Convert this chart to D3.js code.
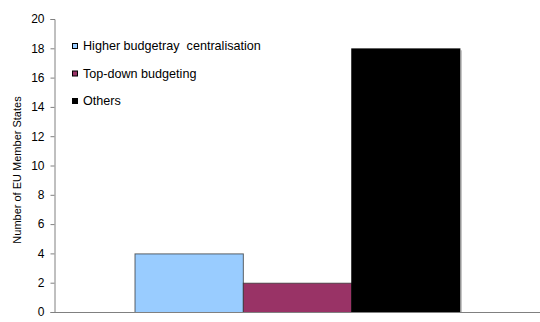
<!DOCTYPE html>
<html>
<head>
<meta charset="utf-8">
<script src="https://cdn.jsdelivr.net/npm/d3@7"></script>
<style>
  html, body { margin: 0; padding: 0; background: #fff; }
  svg { display: block; font-family: "Liberation Sans", Arial, sans-serif; }
</style>
</head>
<body>
<svg id="chart" width="540" height="322"></svg>
<script>
// Data
const groups = [""];
const seriesNames = ["Higher budgetray  centralisation", "Top-down budgeting", "Others"];
const seriesValues = [4, 2, 18];
const seriesColors = ["#99CCFF", "#993366", "#000000"];
const yTicks = [0, 2, 4, 6, 8, 10, 12, 14, 16, 18, 20];
const yTitle = "Number of EU Member States";

const svg = d3.select("#chart");
const margin = { left: 54, right: 0, top: 19, bottom: 10 };
const W = 540, H = 322;
const plotBottom = H - margin.bottom;

const y = d3.scaleLinear().domain([0, 20]).range([plotBottom, margin.top]);
const x0 = d3.scaleBand().domain(groups).range([margin.left, W - margin.right])
  .paddingInner(0).paddingOuter(0.2477);
const x1 = d3.scaleBand().domain(seriesNames).range([0, x0.bandwidth()]).padding(0);

// Bars
const g = svg.append("g").attr("transform", `translate(${x0("")},0)`);
g.selectAll("rect.bar")
  .data(seriesNames.map((n, i) => ({ name: n, value: seriesValues[i], color: seriesColors[i] })))
  .join("rect")
  .attr("class", "bar")
  .attr("x", d => x1(d.name) + 0.5)
  .attr("y", d => y(d.value) + 0.5)
  .attr("width", x1.bandwidth())
  .attr("height", d => y(0) - y(d.value))
  .attr("fill", d => d.color)
  .attr("stroke", (d, i) => i === 2 ? "#000" : "#333")
  .attr("stroke-opacity", 0.75)
  .attr("stroke-width", 1);

// Grey shadow edge on the right of the last bar
const lastX = x0("") + x1(seriesNames[2]) + x1.bandwidth() + 1.5;
svg.append("line")
  .attr("x1", lastX).attr("x2", lastX)
  .attr("y1", y(seriesValues[2]) + 2).attr("y2", y(0))
  .attr("stroke", "#888").attr("stroke-width", 1);

// Y axis
const yAxis = d3.axisLeft(y).tickValues(yTicks).tickSize(4).tickPadding(6).tickFormat(d3.format("d"));
const ya = svg.append("g")
  .attr("transform", `translate(${margin.left + 0.5},0)`)
  .call(yAxis);
ya.select(".domain").attr("stroke", "#808080");
ya.selectAll(".tick line").attr("stroke", "#808080");
ya.selectAll(".tick text").attr("font-size", 12).attr("fill", "#000")
  .attr("font-family", "Liberation Sans, Arial, sans-serif");

// X axis baseline
svg.append("line")
  .attr("x1", margin.left).attr("x2", W)
  .attr("y1", y(0) + 0.5).attr("y2", y(0) + 0.5)
  .attr("stroke", "#808080").attr("stroke-width", 1);

// Y title
svg.append("text")
  .attr("transform", "translate(21,170) rotate(-90)")
  .attr("text-anchor", "middle")
  .attr("font-size", 11)
  .attr("fill", "#000")
  .text(yTitle);

// Legend
const legend = svg.append("g").attr("transform", "translate(72,43)");
const leg = legend.selectAll("g.item")
  .data(seriesNames.map((n, i) => ({ name: n, color: seriesColors[i] })))
  .join("g")
  .attr("class", "item")
  .attr("transform", (d, i) => `translate(0,${i * 27.5})`);
leg.append("rect")
  .attr("x", 0.5).attr("y", 0.5)
  .attr("width", 5).attr("height", 5)
  .attr("fill", d => d.color)
  .attr("stroke", "#000").attr("stroke-width", 1);
leg.append("text")
  .attr("x", 11).attr("y", 3)
  .attr("dy", "0.35em")
  .attr("font-size", 12.6)
  .attr("fill", "#000")
  .attr("xml:space", "preserve")
  .style("white-space", "pre")
  .text(d => d.name);
</script>
</body>
</html>
